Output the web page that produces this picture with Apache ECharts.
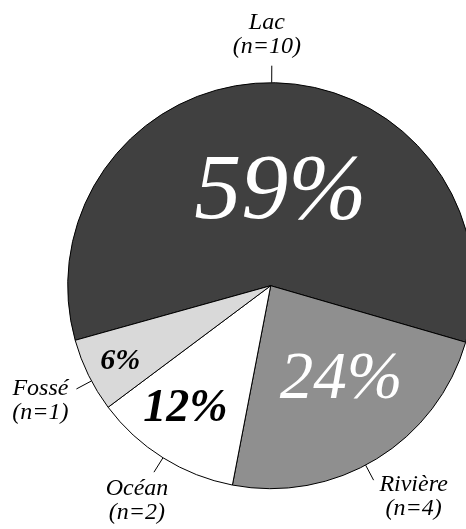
<!DOCTYPE html>
<html>
<head>
<meta charset="utf-8">
<script src="https://cdn.jsdelivr.net/npm/echarts@6/dist/echarts.min.js"></script>
<style>
  html, body { margin: 0; padding: 0; background: #fff; }
  #chart { width: 466px; height: 529px; }
</style>
</head>
<body>
<div id="chart"></div>
<script>
// données
const categories = ['Lac', 'Rivière', 'Océan', 'Fossé'];
const counts = [10, 4, 2, 1];

// style / mise en page
const colors = ['#404040', '#8f8f8f', '#ffffff', '#d9d9d9'];
const CX = 270.7, CY = 285.7, R = 203;
const pctFont = [
  { size: 94, weight: 'normal', color: '#fff' },
  { size: 67, weight: 'normal', color: '#fff' },
  { size: 46, weight: 'bold', color: '#000' },
  { size: 30, weight: 'bold', color: '#000' }
];
// [rayon relatif, décalage angulaire en degrés]
const pctPlace = [[0.46, -5.7], [0.58, 5.2], [0.74, -2.5], [0.83, 0.6]];
// rotation du trait (degrés) et décalage du texte par rapport au bout du trait
const lineTurn = [0, -3.6, 0, 1.8];
const namePlace = [[-5, -31], [40, 17], [-17, 29], [-36, 12]];

const total = counts.reduce((a, b) => a + b, 0);
const FONT = 'Liberation Serif';

const chart = echarts.init(document.getElementById('chart'), null, { renderer: 'canvas' });

const sliceData = categories.map((c, i) => ({
  name: c,
  value: counts[i],
  itemStyle: { color: colors[i] }
}));

const pctData = categories.map((c, i) => ({
  name: c,
  value: counts[i],
  label: {
    fontSize: pctFont[i].size,
    fontWeight: pctFont[i].weight,
    color: pctFont[i].color
  }
}));

function turn(pt, deg) {
  const a = -deg * Math.PI / 180;
  const dx = pt[0] - CX, dy = pt[1] - CY;
  return [CX + dx * Math.cos(a) - dy * Math.sin(a), CY + dx * Math.sin(a) + dy * Math.cos(a)];
}

const option = {
  animation: false,
  series: [
    {
      type: 'pie',
      center: [CX, CY],
      radius: R,
      startAngle: 195.6,
      clockwise: true,
      avoidLabelOverlap: false,
      silent: true,
      data: sliceData,
      itemStyle: { borderColor: '#000', borderWidth: 1 },
      label: {
        show: true,
        position: 'outside',
        formatter: p => p.name + '\n(n=' + p.value + ')',
        fontFamily: FONT,
        fontStyle: 'italic',
        fontSize: 24,
        lineHeight: 24,
        color: '#000'
      },
      labelLine: {
        show: true,
        length: 17,
        length2: 0,
        smooth: false,
        lineStyle: { color: '#000', width: 1 }
      },
      labelLayout: function (p) {
        const t = lineTurn[p.dataIndex];
        const pts = p.labelLinePoints.map(pt => turn(pt, t));
        const e = pts[pts.length - 1];
        const o = namePlace[p.dataIndex];
        return {
          x: e[0] + o[0],
          y: e[1] + o[1],
          align: 'center',
          verticalAlign: 'middle',
          labelLinePoints: pts
        };
      }
    },
    {
      type: 'pie',
      center: [CX, CY],
      radius: R,
      startAngle: 195.6,
      clockwise: true,
      avoidLabelOverlap: false,
      silent: true,
      data: pctData,
      itemStyle: { color: 'rgba(0,0,0,0)', borderWidth: 0 },
      label: {
        show: true,
        position: 'inside',
        formatter: p => Math.round(p.value / total * 100) + '%',
        fontFamily: FONT,
        fontStyle: 'italic'
      },
      labelLine: { show: false },
      labelLayout: function (p) {
        const r = p.labelRect;
        const lx = r.x + r.width / 2, ly = r.y + r.height / 2;
        const pl = pctPlace[p.dataIndex];
        const a = Math.atan2(CY - ly, lx - CX) + pl[1] * Math.PI / 180;
        return {
          x: CX + Math.cos(a) * pl[0] * R,
          y: CY - Math.sin(a) * pl[0] * R,
          align: 'center',
          verticalAlign: 'middle'
        };
      }
    }
  ]
};

chart.setOption(option);
</script>
</body>
</html>
